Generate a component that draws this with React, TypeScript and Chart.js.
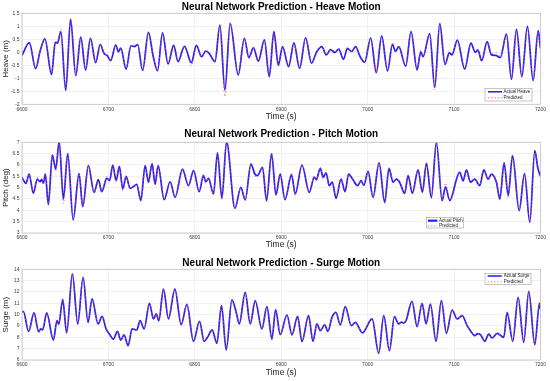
import React, { useEffect, useRef } from 'react';
import { Chart, registerables } from 'chart.js';

Chart.register(...registerables);

// ---------- tick values / labels ----------
const timeTicks = [6600, 6700, 6800, 6900, 7000, 7100, 7200];
const timeTickLabels = ['6600', '6700', '6800', '6900', '7000', '7100', '7200'];
const heaveTicks = [-2, -1.5, -1, -0.5, 0, 0.5, 1, 1.5];
const heaveTickLabels = ['-2', '-1.5', '-1', '-0.5', '0', '0.5', '1', '1.5'];
const pitchTicks = [3, 3.5, 4, 4.5, 5, 5.5, 6, 6.5, 7];
const pitchTickLabels = ['3', '3.5', '4', '4.5', '5', '5.5', '6', '6.5', '7'];
const surgeTicks = [6, 7, 8, 9, 10, 11, 12, 13, 14];
const surgeTickLabels = ['6', '7', '8', '9', '10', '11', '12', '13', '14'];

// ---------- Heave ----------
const heaveTime = [6600, 6608.5, 6615.8, 6621, 6626.5, 6634.2, 6638.5, 6641, 6645, 6650.6, 6656.2, 6662.2, 6668, 6673.6, 6679.2, 6685.2, 6690.5, 6695, 6698.5, 6702.6, 6708.5, 6711.5, 6714.3, 6720.5, 6726, 6730.5, 6733.8, 6739.6, 6746.3, 6751.8, 6756.8, 6762.6, 6769, 6775.5, 6780.5, 6788, 6796, 6801.8, 6807.7, 6812.7, 6816.6, 6823.3, 6829, 6834.8, 6840.9, 6850.2, 6857.3, 6862.5, 6867.8, 6873.5, 6880.5, 6886.1, 6891.5, 6896.6, 6901.5, 6908.5, 6914.7, 6921.2, 6928.2, 6935, 6941, 6947, 6952, 6957, 6962, 6966.5, 6972, 6976.5, 6981.5, 6986, 6991, 6996.5, 7003.5, 7010, 7016.2, 7023, 7028.6, 7032.4, 7035.9, 7044, 7050.2, 7057.2, 7061.4, 7064.1, 7071.8, 7077.6, 7083.4, 7089.5, 7094.5, 7097.5, 7103.8, 7112.3, 7119.5, 7124.5, 7127.5, 7132, 7138.2, 7143.2, 7148, 7153.5, 7160.6, 7166.4, 7172.2, 7178.4, 7184.9, 7191.5, 7197.3, 7200];
const heaveActual = [-0.12, 0.37, -0.63, 0.05, 0.52, -0.85, 0.38, 0.35, 0.8, -1.47, 1.27, -0.9, 0.58, -0.68, 0.54, -0.4, 0.3, -0.05, -0.12, -0.32, 0.28, 0.02, 0.16, -0.65, 0.25, 0.22, 0.3, -0.7, 0.77, -0.15, -0.71, 0.75, -0.45, 0.27, -0.36, 0.23, -0.4, 0.27, -0.17, 0.05, -0.04, -0.36, 1.05, -1.45, 1.1, -0.87, 0.54, -0.2, 0.17, -0.34, 0.48, -0.94, 0.8, -0.5, 0.22, -0.55, 0.36, -0.62, 0.56, -0.42, 0.02, 0.22, -0.1, 0.1, 0.0, 0.12, -0.27, 0.15, 0.03, 0.22, -0.15, -0.38, 0.55, -0.78, 0.63, -0.72, 0.3, 0.03, 0.22, -0.53, 0.8, -0.68, 0.02, -0.17, 0.72, -1.35, 1.1, -0.47, -0.02, -0.1, 0.47, -0.65, 0.35, 0.0, 0.08, -0.32, 0.41, -0.1, -0.12, -0.2, 0.7, -1.04, 0.88, -0.94, 1.0, -1.09, 0.83, 0.15];
const heavePredicted = [0.02, 0.32, -0.6, 0.08, 0.5, -0.78, 0.42, 0.4, 0.9, -1.4, 1.32, -0.88, 0.6, -0.62, 0.55, -0.38, 0.3, -0.05, -0.1, -0.3, 0.25, 0.05, 0.15, -0.6, 0.22, 0.28, 0.32, -0.68, 0.75, -0.12, -0.68, 0.72, -0.4, 0.32, -0.3, 0.22, -0.52, 0.25, -0.15, 0.07, 0.0, -0.33, 1.0, -1.7, 1.15, -0.85, 0.52, -0.25, 0.15, -0.3, 0.45, -0.9, 0.75, -0.5, 0.2, -0.5, 0.35, -0.6, 0.55, -0.4, 0.0, 0.25, -0.08, 0.12, 0.02, 0.1, -0.25, 0.18, 0.05, 0.2, -0.12, -0.35, 0.52, -0.75, 0.6, -0.7, 0.38, 0.08, 0.25, -0.5, 0.75, -0.65, 0.08, -0.15, 0.7, -1.45, 1.12, -0.45, 0.05, -0.05, 0.45, -0.6, 0.28, 0.05, 0.1, -0.28, 0.35, -0.05, 0.0, -0.15, 0.65, -1.0, 0.85, -0.9, 0.95, -1.05, 0.8, 0.18];

// ---------- Pitch ----------
const pitchTime = [6600, 6604.6, 6608.2, 6613.1, 6617.7, 6620.8, 6622.7, 6624.7, 6627, 6630.5, 6635.1, 6639, 6643, 6647.9, 6652.9, 6659.2, 6666, 6670.3, 6676.8, 6683.4, 6688.4, 6692.3, 6698.1, 6701.5, 6705, 6708.9, 6712.7, 6716.6, 6720.5, 6725.1, 6729, 6732.8, 6737.5, 6742.5, 6746.3, 6750.5, 6754, 6757.5, 6764.5, 6771.4, 6777.2, 6785.7, 6792.6, 6798.6, 6805, 6810, 6812.7, 6815.8, 6821.6, 6826.2, 6831.3, 6836.7, 6846.4, 6853.3, 6858.3, 6864.9, 6869.5, 6872.5, 6878.3, 6883, 6888.8, 6893.9, 6898.8, 6904.3, 6911.9, 6916.2, 6924, 6932.4, 6938.2, 6940.5, 6945.2, 6948.5, 6951.8, 6955.6, 6959, 6963.4, 6969.2, 6973.8, 6978, 6982.5, 6988.4, 6992.3, 6995.5, 7000.5, 7006.2, 7013.2, 7019.7, 7024.7, 7029.4, 7033.2, 7037, 7042.8, 7046.8, 7051.7, 7058.3, 7063.3, 7068, 7073.7, 7079.5, 7086.2, 7090, 7095, 7103.5, 7106.5, 7110.5, 7114.3, 7118.9, 7123.9, 7129.7, 7134.4, 7139.4, 7143.2, 7149, 7152.9, 7157.9, 7162.6, 7167.6, 7175.3, 7181.5, 7187.6, 7193.4, 7197, 7200];
const pitchActual = [5.45, 5.19, 5.6, 4.76, 5.38, 5.26, 5.35, 5.2, 5.6, 4.25, 6.44, 5.82, 7.02, 4.5, 6.5, 3.58, 5.62, 4.16, 5.97, 4.79, 5.35, 4.82, 5.41, 5.32, 6.0, 5.31, 5.94, 4.94, 5.5, 4.97, 5.05, 5.15, 4.43, 5.97, 5.24, 6.06, 5.15, 5.97, 4.47, 5.26, 4.57, 5.82, 5.09, 5.75, 4.82, 5.53, 5.26, 5.41, 4.72, 6.53, 4.53, 7.03, 4.09, 5.01, 4.46, 6.04, 5.6, 5.53, 5.9, 4.43, 6.49, 4.68, 5.6, 4.47, 5.56, 4.72, 6.0, 4.79, 5.46, 5.35, 5.85, 5.46, 5.65, 5.09, 5.25, 4.53, 5.38, 4.82, 5.6, 5.38, 5.09, 5.31, 5.1, 5.72, 4.57, 6.09, 4.35, 5.85, 5.24, 5.38, 5.24, 4.75, 5.53, 4.75, 5.78, 4.79, 6.07, 4.57, 7.0, 4.43, 5.04, 4.43, 5.46, 5.68, 5.3, 5.78, 5.24, 5.38, 5.09, 5.78, 5.38, 5.6, 5.24, 4.5, 6.09, 4.65, 6.41, 3.99, 5.62, 3.47, 6.63, 5.85, 5.5];
const pitchPredicted = [5.5, 5.22, 5.6, 4.8, 5.45, 5.3, 5.4, 5.15, 5.58, 4.3, 6.5, 5.72, 6.95, 4.3, 6.55, 3.62, 5.6, 4.18, 5.95, 4.8, 5.4, 4.8, 5.5, 5.3, 5.98, 5.25, 5.95, 4.85, 5.52, 4.95, 5.05, 5.12, 4.4, 5.95, 5.2, 6.1, 5.12, 5.95, 4.5, 5.25, 4.6, 5.8, 5.1, 5.78, 4.85, 5.6, 5.2, 5.45, 4.72, 6.5, 4.48, 7.0, 4.12, 5.0, 4.45, 6.0, 5.5, 5.5, 5.92, 4.35, 6.55, 4.65, 5.62, 4.5, 5.65, 4.65, 6.02, 4.75, 5.52, 5.32, 5.9, 5.35, 5.7, 5.05, 5.22, 4.5, 5.4, 4.8, 5.62, 5.4, 5.12, 5.3, 5.1, 5.7, 4.55, 6.12, 4.38, 5.9, 5.2, 5.35, 5.25, 4.78, 5.55, 4.72, 5.8, 4.78, 6.12, 4.5, 7.02, 4.4, 5.2, 4.45, 5.5, 5.6, 5.35, 5.75, 5.3, 5.35, 5.1, 5.8, 5.35, 5.6, 5.28, 4.45, 6.1, 4.55, 6.45, 4.02, 5.6, 3.5, 6.55, 5.95, 5.6];

// ---------- Surge ----------
const surgeTime = [6600, 6601.5, 6607.7, 6613.9, 6619.3, 6621.6, 6623.9, 6628.6, 6636.3, 6640.5, 6642.5, 6647.1, 6651.7, 6658.3, 6664.5, 6670.7, 6676.4, 6681.1, 6688, 6692.7, 6697.3, 6701.1, 6705.8, 6710.4, 6714.3, 6718.1, 6722.8, 6727.4, 6732.8, 6736.7, 6741.3, 6747.5, 6752.1, 6755.3, 6758.3, 6763.7, 6769.5, 6776.9, 6784.2, 6790.8, 6798.4, 6805.4, 6810.8, 6814.6, 6820.1, 6825.5, 6830.9, 6836.3, 6842.9, 6847.9, 6851.4, 6858.3, 6864.1, 6869.9, 6877.6, 6883.4, 6889.2, 6893.5, 6898.8, 6906.6, 6912.4, 6918.9, 6924, 6931.6, 6936.7, 6941.3, 6945.2, 6950.2, 6954, 6958.7, 6963.3, 6968.3, 6974.1, 6981.1, 6985.7, 6994, 7005.1, 7012.8, 7018.6, 7025.2, 7031, 7035.8, 7039.5, 7041.5, 7044.4, 7051.3, 7057.2, 7063, 7067.6, 7072.6, 7079.1, 7085.3, 7091.1, 7097.7, 7103.5, 7109.3, 7115.1, 7118.9, 7123.9, 7127.5, 7131, 7135.5, 7140.1, 7143.9, 7149.8, 7157.5, 7161.4, 7167.9, 7174.1, 7180.6, 7186.4, 7193.4, 7198.8, 7200];
const surgeActual = [10.2, 10.3, 8.53, 10.15, 8.5, 8.74, 8.65, 10.15, 7.76, 9.47, 9.15, 11.3, 8.4, 13.6, 9.18, 13.3, 9.32, 11.4, 9.18, 9.85, 8.74, 8.29, 7.85, 8.53, 7.76, 8.21, 7.26, 8.74, 8.65, 9.47, 8.74, 11.0, 9.62, 10.06, 9.47, 12.26, 9.62, 12.26, 9.12, 10.9, 7.65, 9.41, 7.65, 8.0, 8.65, 7.47, 10.8, 6.88, 11.3, 10.2, 9.18, 11.97, 9.18, 11.24, 8.74, 10.7, 7.85, 10.45, 8.24, 9.97, 8.21, 9.85, 7.62, 9.91, 7.65, 9.18, 8.59, 9.09, 8.53, 9.76, 10.2, 9.09, 10.7, 9.03, 9.32, 8.4, 9.62, 6.59, 9.91, 6.82, 9.82, 9.18, 9.35, 9.25, 9.47, 11.18, 8.94, 11.0, 9.18, 10.94, 7.65, 11.24, 8.35, 10.41, 9.62, 9.91, 9.03, 8.59, 8.15, 8.32, 8.2, 7.65, 8.29, 7.94, 8.35, 8.0, 10.2, 7.65, 11.53, 7.56, 12.06, 7.35, 11.0, 10.5];
const surgePredicted = [10.2, 10.35, 8.55, 10.1, 8.55, 8.7, 8.7, 10.2, 7.8, 9.55, 9.1, 11.5, 8.45, 13.65, 9.25, 13.35, 9.4, 11.35, 9.25, 9.8, 8.8, 8.35, 7.9, 8.55, 7.8, 8.2, 7.3, 8.72, 8.7, 9.45, 8.8, 11.05, 9.6, 10.1, 9.35, 12.25, 9.7, 12.3, 9.15, 10.85, 7.7, 9.45, 7.7, 8.05, 8.7, 7.45, 10.85, 6.95, 11.3, 10.15, 9.25, 12.0, 9.15, 11.25, 8.7, 10.75, 7.75, 10.4, 8.25, 10.0, 8.2, 9.9, 7.65, 9.95, 7.7, 9.2, 8.6, 9.1, 8.55, 9.7, 10.25, 9.1, 10.75, 9.05, 9.3, 8.45, 9.65, 6.55, 9.9, 6.85, 9.85, 9.2, 9.3, 9.3, 9.5, 11.2, 8.95, 11.05, 9.2, 10.95, 7.6, 11.25, 8.4, 10.4, 9.6, 9.95, 9.0, 8.55, 8.15, 8.3, 8.25, 7.7, 8.3, 7.95, 8.35, 8.0, 10.25, 7.7, 11.55, 7.6, 12.1, 7.4, 11.0, 10.55];

// ---------- panel descriptions (text + layout) ----------
const panels = [
  {
    title: 'Neural Network Prediction - Heave Motion', yLabel: 'Heave (m)', actualLabel: 'Actual Heave',
    time: heaveTime, actual: heaveActual, predicted: heavePredicted,
    yMin: -2, yMax: 1.5, yTicks: heaveTicks, yTickLabels: heaveTickLabels,
    top: 0, plotTop: 13.3, plotBottom: 104.3, titleBase: 9.7, xTitlePad: 5,
    legend: { x: 485, y: 88.3, w: 47, h: 12.7, row1: 91.8, row2: 97.8, lx1: 488, lx2: 502, tx: 503.5, lw: 1.5 },
  },
  {
    title: 'Neural Network Prediction - Pitch Motion', yLabel: 'Pitch (deg)', actualLabel: 'Actual Pitch',
    time: pitchTime, actual: pitchActual, predicted: pitchPredicted,
    yMin: 3, yMax: 7, yTicks: pitchTicks, yTickLabels: pitchTickLabels,
    top: 127, plotTop: 15.3, plotBottom: 106, titleBase: 10.3, xTitlePad: 4,
    legend: { x: 426.7, y: 90.7, w: 36.6, h: 10.3, row1: 93.7, row2: 99, lx1: 428, lx2: 437.5, tx: 439, lw: 2.2 },
  },
  {
    title: 'Neural Network Prediction - Surge Motion', yLabel: 'Surge (m)', actualLabel: 'Actual Surge',
    time: surgeTime, actual: surgeActual, predicted: surgePredicted,
    yMin: 6, yMax: 14, yTicks: surgeTicks, yTickLabels: surgeTickLabels,
    top: 254, plotTop: 15.3, plotBottom: 106, titleBase: 12, xTitlePad: 2.8,
    legend: { x: 485, y: 19.3, w: 46, h: 11.4, row1: 22, row2: 27.7, lx1: 487.7, lx2: 501.7, tx: 503.7, lw: 1.5 },
  },
];

const W = 550;
const H = 127;
const PLOT_LEFT = 22;
const PLOT_RIGHT = 540.5;
const FONT = '"Liberation Sans", Arial, Helvetica, sans-serif';
const BLUE = 'rgb(30,30,255)';
const RED = 'rgba(255,70,70,0.85)';

const decorPlugin = {
  id: 'decor',
  beforeDraw(chart: any) {
    const { ctx } = chart;
    ctx.save();
    ctx.fillStyle = '#ffffff';
    ctx.fillRect(0, 0, chart.width, chart.height);
    ctx.restore();
  },
  afterDraw(chart: any, _args: any, opts: any) {
    const { ctx, chartArea: a } = chart;
    ctx.save();
    ctx.strokeStyle = '#c2c2c2';
    ctx.lineWidth = 0.8;
    ctx.strokeRect(a.left, a.top, a.right - a.left, a.bottom - a.top);
    ctx.fillStyle = '#000000';
    ctx.font = `bold 10px ${FONT}`;
    ctx.textAlign = 'center';
    ctx.textBaseline = 'alphabetic';
    ctx.fillText(opts.title, (a.left + a.right) / 2, opts.titleBase);
    const L = opts.legend;
    ctx.fillStyle = '#ffffff';
    ctx.fillRect(L.x, L.y, L.w, L.h);
    ctx.strokeStyle = '#8c8c8c';
    ctx.lineWidth = 0.5;
    ctx.strokeRect(L.x, L.y, L.w, L.h);
    ctx.strokeStyle = BLUE;
    ctx.lineWidth = L.lw;
    ctx.beginPath();
    ctx.moveTo(L.lx1, L.row1);
    ctx.lineTo(L.lx2, L.row1);
    ctx.stroke();
    ctx.strokeStyle = RED;
    ctx.lineWidth = 1.1;
    ctx.setLineDash([1.2, 2]);
    ctx.beginPath();
    ctx.moveTo(L.lx1, L.row2);
    ctx.lineTo(L.lx2, L.row2);
    ctx.stroke();
    ctx.setLineDash([]);
    ctx.fillStyle = '#222222';
    ctx.font = `4.5px ${FONT}`;
    ctx.textAlign = 'left';
    ctx.textBaseline = 'middle';
    ctx.fillText(opts.actualLabel, L.tx, L.row1);
    ctx.fillText('Predicted', L.tx, L.row2);
    ctx.restore();
  },
};

function Panel({ p }: { p: any }) {
  const ref = useRef<HTMLCanvasElement | null>(null);
  useEffect(() => {
    if (!ref.current) return;
    const actualData = p.time.map((t: number, i: number) => ({ x: t, y: p.actual[i] }));
    const predData = p.time.map((t: number, i: number) => ({ x: t, y: p.predicted[i] }));
    const chart = new Chart(ref.current, {
      type: 'line',
      data: {
        datasets: [
          {
            label: p.actualLabel,
            data: actualData,
            borderColor: BLUE,
            borderWidth: 1.7,
            pointRadius: 0,
            cubicInterpolationMode: 'monotone',
            fill: false,
            order: 1,
          },
          {
            label: 'Predicted',
            data: predData,
            borderColor: RED,
            borderWidth: 1.0,
            borderDash: [1.2, 2.4],
            pointRadius: 0,
            cubicInterpolationMode: 'monotone',
            fill: false,
            order: 0,
          },
        ],
      },
      options: {
        animation: false,
        responsive: false,
        maintainAspectRatio: false,
        devicePixelRatio: 1,
        layout: { padding: { left: 0, right: W - PLOT_RIGHT, top: p.plotTop, bottom: 0 } },
        plugins: {
          legend: { display: false },
          tooltip: { enabled: false },
          title: { display: false },
          decor: { title: p.title, titleBase: p.titleBase, legend: p.legend, actualLabel: p.actualLabel },
        } as any,
        scales: {
          x: {
            type: 'linear',
            min: 6600,
            max: 7200,
            afterFit: (s: any) => { s.height = H - p.plotBottom; },
            afterBuildTicks: (s: any) => { s.ticks = timeTicks.map((v) => ({ value: v })); },
            ticks: {
              autoSkip: false,
              maxRotation: 0,
              padding: 2,
              color: '#404040',
              font: { size: 5, family: FONT },
              callback: (_v: any, i: number) => timeTickLabels[i],
            },
            grid: { color: '#ebebeb', lineWidth: 0.7, drawTicks: false },
            border: { display: false },
            title: {
              display: true,
              text: 'Time (s)',
              color: '#222222',
              font: { size: 8.5, family: FONT },
              padding: { top: 0, bottom: p.xTitlePad },
            },
          },
          y: {
            type: 'linear',
            min: p.yMin,
            max: p.yMax,
            afterFit: (s: any) => { s.width = PLOT_LEFT; },
            afterBuildTicks: (s: any) => { s.ticks = p.yTicks.map((v: number) => ({ value: v })); },
            ticks: {
              autoSkip: false,
              padding: 2.5,
              color: '#404040',
              font: { size: 5, family: FONT },
              callback: (_v: any, i: number) => p.yTickLabels[i],
            },
            grid: { color: '#ebebeb', lineWidth: 0.7, drawTicks: false },
            border: { display: false },
            title: {
              display: true,
              text: p.yLabel,
              color: '#222222',
              font: { size: 8, family: FONT },
              padding: { top: 1.2, bottom: 0 },
            },
          },
        },
      } as any,
      plugins: [decorPlugin],
    });
    return () => chart.destroy();
  }, [p]);
  return (
    <canvas
      ref={ref}
      width={W}
      height={H}
      style={{ position: 'absolute', left: 0, top: p.top, width: W, height: H }}
    />
  );
}

export default function App() {
  return (
    <div style={{ position: 'fixed', left: 0, top: 0, width: W, height: 381, background: '#ffffff', overflow: 'hidden' }}>
      {panels.map((p, i) => (
        <Panel key={i} p={p} />
      ))}
    </div>
  );
}
